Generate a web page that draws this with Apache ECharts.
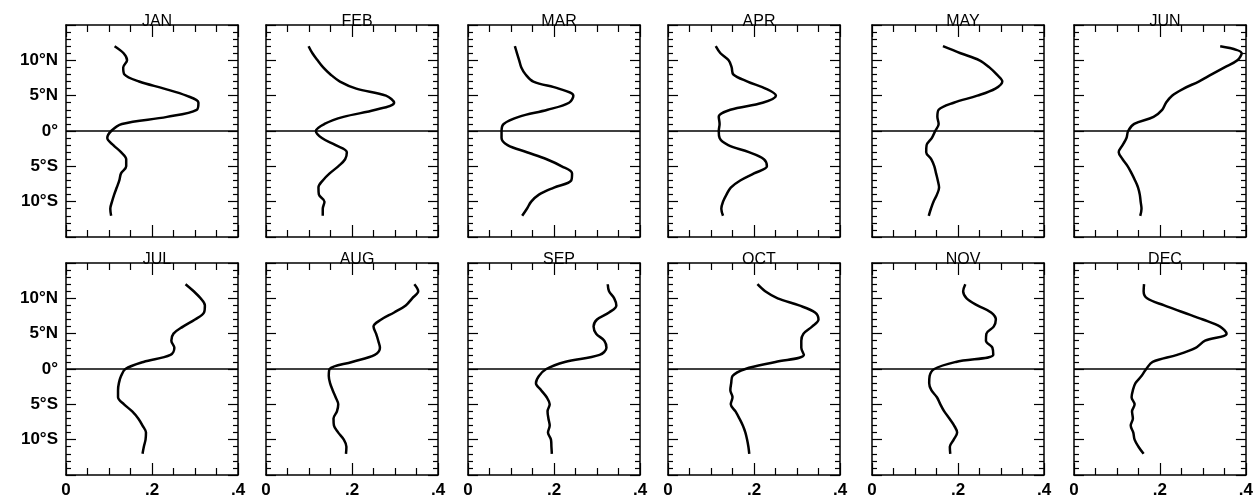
<!DOCTYPE html>
<html>
<head>
<meta charset="utf-8">
<script src="https://cdn.jsdelivr.net/npm/echarts@6/dist/echarts.min.js"></script>
<style>
  html, body { margin: 0; padding: 0; background: #fff; }
  #chart { width: 1256px; height: 501px; }
</style>
</head>
<body>
<div id="chart"></div>
<script>
// latitude of each sample, north to south (deg, N positive)
var lat = [12, 11, 10, 9, 8, 7, 6, 5, 4, 3, 2, 1, 0, -1, -2, -3, -4, -5, -6, -7, -8, -9, -10, -11, -12];

var jan = [0.113, 0.134, 0.142, 0.133, 0.136, 0.170, 0.228, 0.280, 0.308, 0.304, 0.235, 0.130, 0.105, 0.096, 0.110, 0.128, 0.140, 0.140, 0.128, 0.124, 0.118, 0.112, 0.107, 0.103, 0.105];
var feb = [0.099, 0.108, 0.120, 0.133, 0.150, 0.172, 0.210, 0.279, 0.298, 0.255, 0.180, 0.136, 0.116, 0.130, 0.162, 0.188, 0.184, 0.168, 0.148, 0.132, 0.122, 0.123, 0.136, 0.132, 0.132];
var mar = [0.109, 0.114, 0.119, 0.124, 0.134, 0.152, 0.211, 0.245, 0.235, 0.185, 0.118, 0.083, 0.078, 0.078, 0.092, 0.137, 0.183, 0.218, 0.242, 0.240, 0.200, 0.165, 0.147, 0.137, 0.126];
var apr = [0.111, 0.122, 0.141, 0.148, 0.152, 0.185, 0.227, 0.251, 0.220, 0.145, 0.118, 0.120, 0.118, 0.120, 0.140, 0.188, 0.223, 0.230, 0.200, 0.168, 0.146, 0.136, 0.128, 0.124, 0.128];
var may = [0.165, 0.206, 0.250, 0.273, 0.290, 0.303, 0.287, 0.245, 0.190, 0.155, 0.152, 0.155, 0.147, 0.139, 0.127, 0.126, 0.138, 0.145, 0.149, 0.153, 0.156, 0.151, 0.143, 0.137, 0.132];
var jun = [0.340, 0.390, 0.380, 0.350, 0.320, 0.290, 0.255, 0.228, 0.214, 0.205, 0.185, 0.140, 0.126, 0.122, 0.113, 0.104, 0.113, 0.125, 0.134, 0.142, 0.149, 0.153, 0.155, 0.157, 0.154];
var jul = [0.278, 0.297, 0.313, 0.323, 0.321, 0.300, 0.272, 0.250, 0.245, 0.252, 0.243, 0.180, 0.138, 0.128, 0.123, 0.121, 0.121, 0.135, 0.154, 0.168, 0.178, 0.186, 0.185, 0.181, 0.178];
var aug = [0.345, 0.354, 0.340, 0.325, 0.298, 0.268, 0.250, 0.256, 0.261, 0.265, 0.253, 0.200, 0.148, 0.146, 0.149, 0.155, 0.162, 0.168, 0.165, 0.157, 0.158, 0.168, 0.181, 0.187, 0.186];
var sep = [0.325, 0.328, 0.340, 0.345, 0.328, 0.300, 0.292, 0.298, 0.317, 0.322, 0.306, 0.225, 0.182, 0.165, 0.158, 0.170, 0.183, 0.190, 0.185, 0.187, 0.190, 0.186, 0.193, 0.194, 0.195];
var oct = [0.208, 0.226, 0.255, 0.305, 0.342, 0.350, 0.335, 0.315, 0.310, 0.310, 0.316, 0.250, 0.180, 0.150, 0.147, 0.145, 0.150, 0.146, 0.157, 0.166, 0.174, 0.180, 0.184, 0.187, 0.189];
var nov = [0.217, 0.212, 0.220, 0.245, 0.277, 0.288, 0.283, 0.266, 0.265, 0.280, 0.282, 0.195, 0.145, 0.134, 0.133, 0.138, 0.151, 0.159, 0.168, 0.180, 0.191, 0.198, 0.190, 0.181, 0.182];
var dec = [0.163, 0.162, 0.170, 0.210, 0.255, 0.300, 0.340, 0.355, 0.305, 0.283, 0.240, 0.183, 0.168, 0.157, 0.143, 0.137, 0.134, 0.141, 0.135, 0.137, 0.132, 0.138, 0.141, 0.150, 0.162];

var months = ['JAN', 'FEB', 'MAR', 'APR', 'MAY', 'JUN', 'JUL', 'AUG', 'SEP', 'OCT', 'NOV', 'DEC'];
var values = [jan, feb, mar, apr, may, jun, jul, aug, sep, oct, nov, dec];

var latLabels = { '10': '10°N', '5': '5°N', '0': '0°', '-5': '5°S', '-10': '10°S' };

var myChart = echarts.init(document.getElementById('chart'));

var lefts = [66, 266, 468, 668, 872, 1074];
var tops = [25, 263];
var panelW = 172, panelH = 212;
var font = '"Liberation Sans", Arial, sans-serif';

var grids = [], xAxes = [], yAxes = [], series = [], titles = [];

function axisBase() {
    return {
        axisLine: { show: true, onZero: false, lineStyle: { color: '#000', width: 1.5 } },
        axisTick: { show: true, inside: true, length: 10, lineStyle: { color: '#000', width: 1.2 } },
        minorTick: { show: true, length: 5, lineStyle: { color: '#000', width: 1.2 } },
        splitLine: { show: false },
        minorSplitLine: { show: false }
    };
}

months.forEach(function (m, i) {
    var row = Math.floor(i / 6), col = i % 6;
    grids.push({ left: lefts[col], top: tops[row], width: panelW, height: panelH, show: false });

    titles.push({
        text: m,
        left: lefts[col] + panelW / 2,
        textAlign: 'center',
        top: tops[row] - 16,
        textStyle: { fontFamily: font, fontSize: 16, fontWeight: 'normal', color: '#000' }
    });

    ['bottom', 'top'].forEach(function (pos) {
        var ax = axisBase();
        ax.gridIndex = i;
        ax.type = 'value';
        ax.position = pos;
        ax.min = 0;
        ax.max = 0.4;
        ax.interval = 0.2;
        ax.axisTick.length = 12;
        ax.minorTick.splitNumber = 4;
        ax.minorTick.length = 7;
        ax.axisLabel = {
            show: pos === 'bottom' && row === 1,
            margin: 7,
            color: '#000',
            fontFamily: font,
            fontSize: 17,
            fontWeight: 'bold',
            formatter: function (v) { return v === 0 ? '0' : String(+v.toFixed(1)).replace('0.', '.'); }
        };
        xAxes.push(ax);
    });

    ['left', 'right'].forEach(function (pos) {
        var ax = axisBase();
        ax.gridIndex = i;
        ax.type = 'value';
        ax.position = pos;
        ax.min = -15;
        ax.max = 15;
        ax.interval = 5;
        ax.minorTick.splitNumber = 5;
        ax.axisLabel = {
            show: pos === 'left' && col === 0,
            margin: 8,
            color: '#000',
            fontFamily: font,
            fontSize: 17,
            fontWeight: 'bold',
            formatter: function (v) { return latLabels[String(v)] || ''; }
        };
        yAxes.push(ax);
    });

    series.push({
        name: m,
        type: 'line',
        xAxisIndex: 2 * i,
        yAxisIndex: 2 * i,
        smooth: 0.35,
        showSymbol: false,
        lineStyle: { color: '#000', width: 2.5 },
        data: lat.map(function (l, k) { return [values[i][k], l]; }),
        markLine: {
            silent: true,
            symbol: ['none', 'none'],
            label: { show: false },
            lineStyle: { color: '#000', width: 1.5, type: 'solid' },
            data: [{ yAxis: 0 }]
        }
    });
});

var option = {
    backgroundColor: '#fff',
    animation: false,
    title: titles,
    grid: grids,
    xAxis: xAxes,
    yAxis: yAxes,
    series: series
};
myChart.setOption(option);
</script>
</body>
</html>
